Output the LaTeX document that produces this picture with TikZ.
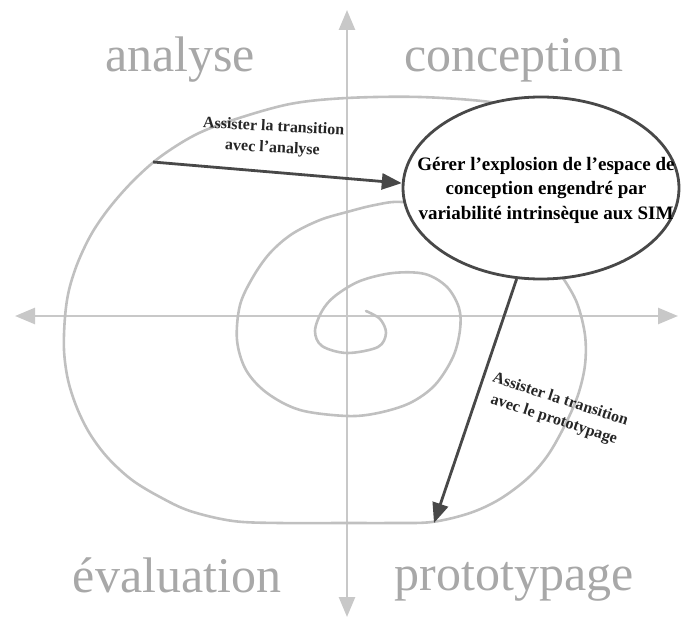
\documentclass[tikz,border=0pt]{standalone}
\usepackage{fontspec}
\setmainfont{Liberation Serif}
\usetikzlibrary{arrows.meta,shapes.geometric}
\definecolor{labelgray}{RGB}{168,168,168}
\definecolor{axisgray}{RGB}{200,200,200}
\definecolor{spiralgray}{RGB}{192,192,192}
\definecolor{darkline}{RGB}{72,72,72}
\tikzset{
  axisline/.style={draw=axisgray,line width=2.6pt,{Triangle[length=20pt,width=16pt]}-{Triangle[length=20pt,width=16pt]}},
  spiralline/.style={draw=spiralgray,line width=2.6pt,line cap=round},
  darkarrow/.style={draw=darkline,line width=2.8pt,-{Triangle[length=20pt,width=16pt]}},
  phase/.style={text=labelgray,font=\fontsize{50}{60}\selectfont,anchor=base,inner sep=0pt},
  bubble/.style={ellipse,draw=darkline,line width=2.8pt,fill=white,minimum width=276pt,minimum height=182pt,inner sep=0pt},
  bubbletext/.style={align=center,inner sep=0pt,font=\bfseries\fontsize{19}{24.5}\selectfont},
  arrowlabel/.style={align=center,font=\bfseries\fontsize{16}{21}\selectfont,text=black!85,inner sep=0pt}
}
\begin{document}
\begin{tikzpicture}[x=1pt,y=-1pt]
\useasboundingbox (0,0) rectangle (686,618);
% axes
\coordinate (xl) at (15,316);
\coordinate (xr) at (678,316);
\coordinate (yt) at (347,10);
\coordinate (yb) at (347,617);
\draw[axisline] (xl) -- (xr);
\draw[axisline] (yb) -- (yt);
% spiral
\draw[spiralline] plot[smooth,tension=0.55] coordinates {
 (366,311) (380,319) (386,333) (378,347) (347,353) (322,346) (315,331) (322,311)
 (335,296) (360,281) (393,273) (425,274) (447,287) (459,308) (460,330) (453,357)
 (435,385) (410,403) (378,413) (347,416) (300,410) (267,393) (246,370) (237,340)
 (240,305) (253,277) (270,253) (292,234) (320,220) (347,212) (375,205) (402,202)
 (450,210) (510,235) (548,258) (563,278) (577,303) (585,335) (585,365) (578,395)
 (565,425) (548,455) (528,478) (500,499) (470,513) (432,522) (390,523) (347,523)
 (280,523) (233,521) (190,511) (160,497) (132,480) (108,458) (90,434) (77,408)
 (68,380) (64,350) (65,317) (69,290) (78,262) (92,233) (110,207) (133,181)
 (160,157) (195,135) (233,120) (290,104) (347,98) (420,97) (490,102) (530,112)
};
% phase labels
\node[phase] (an) at (180,72) {analyse};
\node[phase] (co) at (514,72) {conception};
\node[phase] (ev) at (177,592) {évaluation};
\node[phase] (pr) at (514,590) {prototypage};
% bubble
\node[bubble] (ell) at (541,188) {};
\node[bubbletext] (elltext) at (546,190) {Gérer l’explosion de l’espace de\\conception engendré par\\variabilité intrinsèque aux SIM};
% arrows
\coordinate (a1s) at (153,162);
\coordinate (a2e) at (434,523);
\draw[darkarrow] (a1s) -- (ell.178);
\draw[darkarrow] (ell.255) -- (a2e);
\node[arrowlabel,rotate=-3] (l1) at (273,138) {Assister la transition\\avec l’analyse};
\node[arrowlabel,rotate=-18] (l2) at (557,410) {Assister la transition\\avec le prototypage};
\end{tikzpicture}
\end{document}
